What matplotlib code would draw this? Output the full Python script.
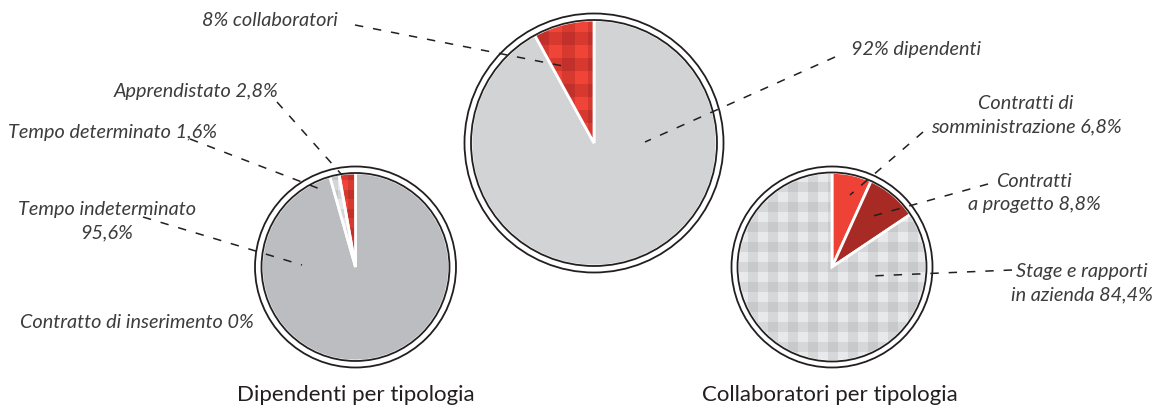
import numpy as np
import matplotlib
matplotlib.use('Agg')
import matplotlib.pyplot as plt

# ---- data ----
dip_names = ['Tempo indeterminato', 'Tempo determinato', 'Apprendistato', 'Contratto di inserimento']
dip_values = [95.6, 1.6, 2.8, 0.0]

tot_names = ['dipendenti', 'collaboratori']
tot_values = [92, 8]

coll_names = ['Contratti di\nsomministrazione', 'Contratti\na progetto', 'Stage e rapporti\nin azienda']
coll_values = [6.8, 8.8, 84.4]

titles = ['Dipendenti per tipologia', 'Collaboratori per tipologia']

H = 410  # figure height in px, layout below is measured from the top


def fmt(v):
    return ('%g' % v).replace('.', ',') + '%'


def Y(y):
    return H - y


def gingham(c_light, c_mid, c_dark, cell, size):
    n = int(size / cell) + 2
    i, j = np.indices((n, n))
    a = (i % 2 == 0).astype(int) + (j % 2 == 0).astype(int)
    cols = np.array([matplotlib.colors.to_rgb(c) for c in (c_dark, c_mid, c_light)])
    return cols[a], n * cell


def texture(ax, wedge, center, r, colors, cell):
    img, ext = gingham(*colors, cell, 2 * r)
    x0, y0 = center[0] - r, center[1] - r
    im = ax.imshow(img, extent=(x0, x0 + ext, y0, y0 + ext), origin='lower',
                   interpolation='nearest', zorder=wedge.get_zorder())
    im.set_clip_path(wedge)
    # redraw wedge outline on top of the texture
    wedge.set_zorder(wedge.get_zorder() + 0.1)
    wedge.set_facecolor('none')


def ring(ax, center, r_in, r_out):
    ax.add_patch(plt.Circle(center, r_out, facecolor='white', edgecolor='#231f20', lw=1.3, zorder=1))
    ax.add_patch(plt.Circle(center, r_in, facecolor='none', edgecolor='#231f20', lw=1.3, zorder=4))


def leader(ax, p0, p1):
    ax.plot([p0[0], p1[0]], [Y(p0[1]), Y(p1[1])], color='#231f20', lw=1.1,
            dashes=(5.5, 6.5), zorder=6)


plt.rcParams['font.family'] = ['Lato', 'DejaVu Sans']
fig = plt.figure(figsize=(11.6, 4.1), dpi=100)
ax = fig.add_axes([0, 0, 1, 1])

wp = dict(edgecolor='white', linewidth=2.0)
red_check = ('#f04438', '#d8392f', '#c1302a')
grey_check = ('#e8e9ea', '#d6d7d9', '#c8c9cb')

# left pie
c1 = (355.5, Y(268))
ring(ax, c1, 94, 100.5)
w1, _ = ax.pie(dip_values, colors=['#bcbdc0', '#cfd0d2', '#e0453a', 'white'], startangle=90,
               counterclock=False, center=c1, radius=94, wedgeprops=wp, frame=True)
for w in w1:
    w.set_zorder(2)
texture(ax, w1[1], c1, 94, ('#e6e7e8', '#d4d5d7', '#c4c5c7'), 9.5)
texture(ax, w1[2], c1, 94, red_check, 9.5)

# middle pie
c2 = (594, Y(144))
ring(ax, c2, 123, 129.5)
w2, _ = ax.pie(tot_values, colors=['#d1d3d4', '#e0453a'], startangle=90,
               counterclock=False, center=c2, radius=123, wedgeprops=wp, frame=True)
for w in w2:
    w.set_zorder(2)
texture(ax, w2[1], c2, 123, red_check, 13)

# right pie
c3 = (832, Y(268))
ring(ax, c3, 94.5, 100.5)
w3, _ = ax.pie(coll_values, colors=['#ee4237', '#a72a25', '#d6d7d9'], startangle=90,
               counterclock=False, center=c3, radius=94.5, wedgeprops=wp, frame=True)
for w in w3:
    w.set_zorder(2)
texture(ax, w3[2], c3, 94.5, grey_check, 10)

# labels (y = baseline of the last line)
lab = dict(fontsize=14.3, style='italic', color='#3c3c3c', ha='center',
           va='baseline', linespacing=1.45, zorder=7)
ax.text(270, Y(26), fmt(tot_values[1]) + ' ' + tot_names[1], **lab)
ax.text(916, Y(55), fmt(tot_values[0]) + ' ' + tot_names[0], **lab)
ax.text(196, Y(97), dip_names[2] + ' ' + fmt(dip_values[2]), **lab)
ax.text(112, Y(138), dip_names[1] + ' ' + fmt(dip_values[1]), **lab)
ax.text(107, Y(238), dip_names[0] + '\n' + fmt(dip_values[0]), **lab)
ax.text(137, Y(328), dip_names[3] + ' ' + fmt(dip_values[3]), **lab)
ax.text(1026, Y(132), coll_names[0] + ' ' + fmt(coll_values[0]), **lab)
ax.text(1034, Y(210), coll_names[1] + ' ' + fmt(coll_values[1]), **lab)
ax.text(1082, Y(300), coll_names[2] + ' ' + fmt(coll_values[2]), **lab)

leader(ax, (355, 26), (563, 67))
leader(ax, (835, 58), (645, 143))
leader(ax, (277, 103), (342, 176))
leader(ax, (190, 140), (320, 190))
leader(ax, (143, 218), (302, 266))
leader(ax, (923, 133), (850, 196))
leader(ax, (988, 185), (873, 217))
leader(ax, (1012, 271), (870, 277))

tt = dict(fontsize=16, color='#231f20', ha='center', va='baseline')
ax.text(355.5, Y(401), titles[0], **tt)
ax.text(830, Y(401), titles[1], **tt)

ax.set_xlim(0, 1160)
ax.set_ylim(0, H)
ax.set_aspect('equal')
ax.axis('off')
fig.savefig('out.png', dpi=100, facecolor='white')
